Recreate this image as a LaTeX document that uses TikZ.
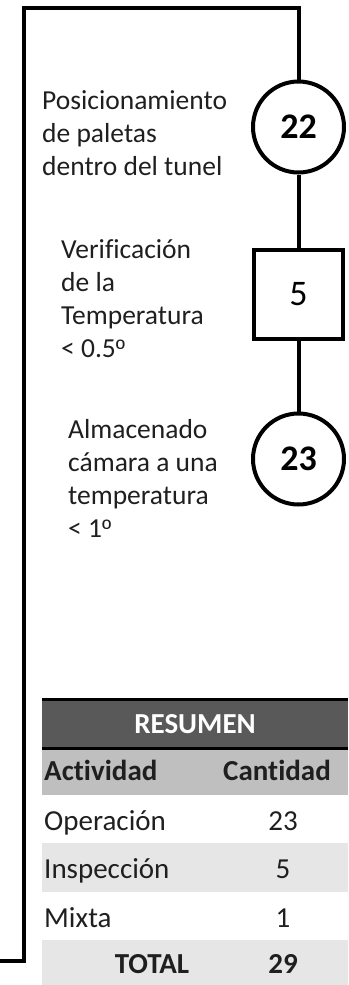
\documentclass[tikz,border=0pt]{standalone}
\usepackage{fontspec}
\setmainfont{Carlito}[Ligatures={NoCommon,NoContextual}]
\newfontfamily\ordfont{Liberation Sans}
\usetikzlibrary{positioning}

\definecolor{headgray}{HTML}{595959}
\definecolor{rowgray}{HTML}{BFBFBF}
\definecolor{lightrow}{HTML}{E7E6E6}

% underlined ordinal sign
\newcommand{\grad}{{\ordfont\fontsize{25}{33}\selectfont º}}

\tikzset{
  flow/.style={line width=4pt},
  opcircle/.style={draw, circle, line width=4pt, minimum size=91pt, inner sep=0pt,
    font=\fontsize{36}{40}\selectfont\bfseries},
  inspbox/.style={draw, rectangle, line width=4pt, minimum size=89pt, inner sep=0pt,
    font=\fontsize{36}{40}\selectfont},
  desc/.style={align=left, anchor=base west, inner sep=0pt, text=black!88,
    font=\fontsize{27.5}{33}\selectfont},
  cell/.style={anchor=base, inner sep=0pt, text=black!88, font=\fontsize{29}{33}\selectfont},
  cellhead/.style={cell, font=\fontsize{29}{33}\selectfont\bfseries},
}

\begin{document}
\begin{tikzpicture}[x=1pt, y=-1pt]
  \useasboundingbox (0,0) rectangle (348,985);

  % process symbols
  \node[opcircle] (op22) at (298.5,127) {22};
  \node[inspbox] (insp5) at (298.5,294) {5};
  \node[opcircle] (op23) at (298.5,459) {23};

  % descriptions (anchored on the last line)
  \node[desc] (posic) at (42,175) {Posicionamiento\\de paletas\\dentro del tunel};
  \node[desc] (verif) at (61,357) {Verificación\\de la\\Temperatura\\< 0.5\grad};
  \node[desc] (almac) at (68,537) {Almacenado\\cámara a una\\temperatura\\< 1\grad};

  % flow line
  \coordinate (entry) at (0,960.5);
  \coordinate (bl) at (24,960.5);
  \coordinate (tl) at (24,7.5);
  \coordinate (tr) at (298.5,7.5);
  \draw[flow] (entry) -- (bl) -- (tl) -- (tr) -- (op22);
  \draw[flow] (op22) -- (insp5);
  \draw[flow] (insp5) -- (op23);

  % summary table
  \fill[headgray] (42,699.5) rectangle (348,748);
  \fill[rowgray] (42,748) rectangle (348,795);
  \fill[lightrow] (42,843) rectangle (348,892);
  \fill[lightrow] (42,940) rectangle (348,985);
  \draw[line width=2.5pt] (42,699.5) -- (348,699.5);
  \draw[line width=3pt] (42,748) -- (348,748);

  \node[cellhead, text=white] (resumen) at (195,733) {RESUMEN};
  \node[cellhead, anchor=base west] (actividad) at (44,780) {Actividad};
  \node[cellhead] (cantidad) at (277,780) {Cantidad};
  \node[cell, anchor=base west] (oper) at (44,830) {Operación};
  \node[cell] (noper) at (283,830) {23};
  \node[cell, anchor=base west] (insp) at (44,878) {Inspección};
  \node[cell] (ninsp) at (283,878) {5};
  \node[cell, anchor=base west] (mixta) at (44,927) {Mixta};
  \node[cell] (nmixta) at (283,927) {1};
  \node[cellhead] (total) at (152,973) {TOTAL};
  \node[cellhead] (ntotal) at (283,973) {29};
\end{tikzpicture}
\end{document}
